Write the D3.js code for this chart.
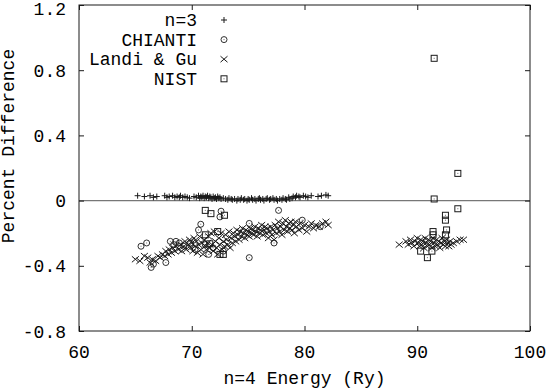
<!DOCTYPE html>
<html><head><meta charset="utf-8">
<script src="https://cdn.jsdelivr.net/npm/d3@7"></script>
<style>
html,body{margin:0;padding:0;background:#fff;}
svg text{font-family:"Courier New","Courier","Nimbus Mono PS","Nimbus Mono L","FreeMono","Liberation Mono",monospace;font-size:18px;fill:#000;}
</style></head>
<body><svg id="c" width="552" height="391"></svg>
<script>
const xTicks = [60, 70, 80, 90, 100];
const yTicks = [-0.8, -0.4, 0, 0.4, 0.8, 1.2];
const yTickLabels = ["-0.8", "-0.4", "0", "0.4", "0.8", "1.2"];
const seriesNames = ["n=3", "CHIANTI", "Landi & Gu", "NIST"];
const xTitle = "n=4 Energy (Ry)";
const yTitle = "Percent Difference";

const n3Energy = [65.2,65.8,66.3,66.6,66.9,67.6,67.8,68.0,68.3,68.5,68.7,68.9,69.0,69.2,69.4,69.6,69.8,70.2,70.4,70.6,70.7,70.8,70.9,71.0,71.1,71.2,71.3,71.4,71.5,71.6,71.7,71.8,71.9,72.0,72.1,72.2,72.3,72.4,72.5,72.6,72.8,73.0,73.2,73.3,73.5,73.6,73.8,74.0,74.1,74.3,74.4,74.6,74.7,74.9,75.0,75.1,75.3,75.4,75.6,75.7,75.9,76.0,76.1,76.3,76.4,76.6,76.7,76.9,77.0,77.2,77.3,77.5,77.6,77.8,78.0,78.1,78.3,78.4,78.6,78.7,78.9,79.0,79.2,79.3,79.5,79.6,79.9,80.1,80.3,80.6,81.2,81.5,81.9,82.1];
const n3Diff = [0.03,0.025,0.03,0.02,0.025,0.03,0.02,0.025,0.03,0.02,0.025,0.02,0.03,0.02,0.025,0.02,0.015,0.025,0.02,0.03,0.015,0.025,0.02,0.03,0.015,0.025,0.02,0.03,0.015,0.025,0.02,0.01,0.025,0.015,0.02,0.01,0.025,0.015,0.02,0.01,0.015,0.01,0.005,0.015,0.01,0.005,0.01,0.0,0.01,0.005,0.015,0.005,0.01,0.0,0.01,0.005,0.015,0.005,0.01,0.0,0.01,0.015,0.005,0.01,0.0,0.01,0.015,0.005,0.01,0.015,0.005,0.01,0.0,0.01,0.005,0.015,0.01,0.005,0.02,0.01,0.015,0.025,0.02,0.03,0.025,0.02,0.03,0.025,0.02,0.03,0.025,0.03,0.035,0.03];

const chiantiEnergy = [65.5,66.0,66.4,66.6,67.7,68.1,68.4,68.6,68.9,69.3,69.9,70.3,70.6,70.8,71.2,71.5,71.9,72.5,72.6,72.8,75.1,75.1,77.3,77.7,79.8,81.4];
const chiantiDiff = [-0.28,-0.26,-0.41,-0.39,-0.38,-0.25,-0.27,-0.25,-0.26,-0.28,-0.26,-0.30,-0.18,-0.145,-0.27,-0.33,-0.29,-0.10,-0.065,-0.31,-0.14,-0.35,-0.26,-0.06,-0.12,-0.16];

const landiEnergy = [65.0,65.4,65.8,66.1,66.3,66.5,66.8,67.0,67.2,67.4,67.6,67.7,67.9,68.0,68.2,68.3,68.5,68.6,68.8,69.0,69.1,69.3,69.4,69.5,69.7,69.8,69.9,70.0,70.1,70.2,70.3,70.4,70.5,70.6,70.7,70.8,70.9,71.0,71.1,71.2,71.3,71.4,71.5,71.6,71.7,71.8,71.9,72.0,72.1,72.2,72.3,72.4,72.5,72.6,72.7,72.8,72.9,73.0,73.1,73.2,73.3,73.4,73.5,73.6,73.7,73.8,73.9,74.0,74.1,74.2,74.3,74.4,74.5,74.6,74.7,74.8,74.9,75.0,75.1,75.2,75.3,75.4,75.5,75.6,75.7,75.8,75.9,76.0,76.1,76.2,76.3,76.4,76.5,76.6,76.7,76.8,76.9,77.0,77.1,77.2,77.3,77.4,77.5,77.6,77.7,77.8,77.9,78.0,78.1,78.2,78.3,78.4,78.5,78.6,78.7,78.8,78.9,79.0,79.1,79.2,79.3,79.5,79.6,79.8,80.0,80.2,80.4,80.6,80.8,81.0,81.3,81.6,81.9,82.1,
 88.4,89.0,89.2,89.4,89.5,89.7,89.8,90.0,90.1,90.2,90.3,90.4,90.5,90.6,90.7,90.8,90.9,91.0,91.1,91.2,91.3,91.4,91.5,91.6,91.7,91.8,91.9,92.0,92.1,92.2,92.3,92.4,92.5,92.6,92.7,92.8,92.9,93.0,93.2,93.5,93.8,94.1];
const landiDiff = [-0.36,-0.37,-0.34,-0.35,-0.38,-0.36,-0.37,-0.34,-0.35,-0.33,-0.34,-0.31,-0.33,-0.30,-0.32,-0.29,-0.31,-0.28,-0.30,-0.27,-0.31,-0.28,-0.25,-0.30,-0.27,-0.24,-0.29,-0.26,-0.31,-0.23,-0.28,-0.25,-0.32,-0.27,-0.22,-0.30,-0.26,-0.33,-0.24,-0.28,-0.30,-0.26,-0.22,-0.29,-0.20,-0.27,-0.31,-0.19,-0.25,-0.29,-0.33,-0.23,-0.27,-0.20,-0.30,-0.25,-0.28,-0.21,-0.24,-0.27,-0.19,-0.29,-0.23,-0.26,-0.20,-0.22,-0.25,-0.18,-0.21,-0.24,-0.19,-0.22,-0.17,-0.20,-0.23,-0.18,-0.21,-0.19,-0.22,-0.17,-0.20,-0.18,-0.21,-0.16,-0.19,-0.22,-0.17,-0.20,-0.18,-0.15,-0.21,-0.18,-0.16,-0.20,-0.17,-0.23,-0.19,-0.16,-0.21,-0.18,-0.24,-0.15,-0.20,-0.17,-0.13,-0.19,-0.16,-0.21,-0.14,-0.18,-0.12,-0.16,-0.19,-0.14,-0.17,-0.13,-0.18,-0.15,-0.20,-0.13,-0.16,-0.18,-0.14,-0.17,-0.15,-0.19,-0.16,-0.14,-0.17,-0.15,-0.16,-0.14,-0.13,-0.15,
 -0.27,-0.25,-0.27,-0.24,-0.26,-0.28,-0.25,-0.23,-0.26,-0.28,-0.24,-0.27,-0.25,-0.29,-0.23,-0.26,-0.28,-0.24,-0.27,-0.25,-0.29,-0.23,-0.26,-0.28,-0.24,-0.27,-0.25,-0.29,-0.26,-0.23,-0.27,-0.25,-0.28,-0.24,-0.26,-0.28,-0.25,-0.27,-0.26,-0.25,-0.24,-0.24];

const nistEnergy = [71.2,71.7,72.9,71.2,72.3,71.6,72.5,72.8,91.5,93.6,91.5,93.6,92.5,92.5,91.4,91.4,92.6,92.5,90.3,91.3,90.9];
const nistDiff = [-0.06,-0.08,-0.09,-0.21,-0.19,-0.265,-0.33,-0.33,0.873,0.167,0.01,-0.05,-0.09,-0.12,-0.19,-0.21,-0.18,-0.21,-0.31,-0.31,-0.35];

const svg = d3.select("#c");
const L = 79, R = 530, T = 5, B = 331;
const x = d3.scaleLinear().domain([60, 100]).range([L, R]);
const y = d3.scaleLinear().domain([-0.8, 1.2]).range([B, T]);
const ink = "#1a1a1a";

// zero axis
svg.append("line").attr("x1", L).attr("x2", R).attr("y1", y(0)).attr("y2", y(0))
  .attr("stroke", "#777").attr("stroke-width", 1.3);

// axes with inward ticks
const tk = 5;
const gB = svg.append("g").attr("transform", `translate(0,${B})`).call(d3.axisTop(x).tickValues(xTicks).tickSize(tk).tickFormat(""));
const gT = svg.append("g").attr("transform", `translate(0,${T})`).call(d3.axisBottom(x).tickValues(xTicks).tickSize(tk).tickFormat(""));
const gL = svg.append("g").attr("transform", `translate(${L},0)`).call(d3.axisRight(y).tickValues(yTicks).tickSize(tk).tickFormat(""));
const gR = svg.append("g").attr("transform", `translate(${R},0)`).call(d3.axisLeft(y).tickValues(yTicks).tickSize(tk).tickFormat(""));
[gB, gT, gL, gR].forEach(g => { g.select(".domain").remove(); g.selectAll("line").attr("stroke", ink); });

// tick labels
svg.append("g").selectAll("text").data(xTicks).join("text")
  .attr("x", d => x(d)).attr("y", 358).attr("text-anchor", "middle").text(d => d);
svg.append("g").selectAll("text").data(yTicks).join("text")
  .attr("x", 66).attr("y", d => Math.max(y(d) + 6.5, 15.2)).attr("text-anchor", "end").text((d, i) => yTickLabels[i]);

// frame
svg.append("rect").attr("x", L).attr("y", T).attr("width", R - L).attr("height", B - T)
  .attr("fill", "none").attr("stroke", ink).attr("stroke-width", 1);

// titles
svg.append("text").attr("x", (L + R) / 2).attr("y", 384).attr("text-anchor", "middle").text(xTitle);
svg.append("text").attr("transform", "translate(14,146) rotate(-90)").attr("text-anchor", "middle").text(yTitle);

// markers
function plus(g, cx, cy) {
  g.append("path").attr("d", `M${cx-3},${cy}H${cx+3}M${cx},${cy-3}V${cy+3}`).attr("stroke", ink).attr("fill", "none").attr("stroke-width", 1);
}
function cross(g, cx, cy) {
  g.append("path").attr("d", `M${cx-3.5},${cy-3}L${cx+3.5},${cy+3}M${cx-3.5},${cy+3}L${cx+3.5},${cy-3}`).attr("stroke", ink).attr("fill", "none").attr("stroke-width", 1);
}
function circ(g, cx, cy) {
  g.append("circle").attr("cx", cx).attr("cy", cy).attr("r", 3).attr("stroke", ink).attr("fill", "none").attr("stroke-width", 0.9);
  g.append("rect").attr("x", cx - 0.5).attr("y", cy - 0.5).attr("width", 1).attr("height", 1).attr("fill", "#666");
}
function sq(g, cx, cy) {
  g.append("rect").attr("x", cx - 3).attr("y", cy - 3).attr("width", 6).attr("height", 6).attr("stroke", ink).attr("fill", "none").attr("stroke-width", 1);
  g.append("rect").attr("x", cx - 0.5).attr("y", cy - 0.5).attr("width", 1).attr("height", 1).attr("fill", "#666");
}

const plot = svg.append("g");
const gN3 = plot.append("g"), gCH = plot.append("g"), gLG = plot.append("g"), gNI = plot.append("g");
n3Energy.forEach((e, i) => plus(gN3, x(e), y(n3Diff[i])));
chiantiEnergy.forEach((e, i) => circ(gCH, x(e), y(chiantiDiff[i])));
landiEnergy.forEach((e, i) => cross(gLG, x(e), y(landiDiff[i])));
nistEnergy.forEach((e, i) => sq(gNI, x(e), y(nistDiff[i])));

// legend
const marks = [plus, circ, cross, sq];
const leg = svg.append("g");
seriesNames.forEach((s, i) => {
  const cy = 20 + i * 19.6;
  leg.append("text").attr("x", 197).attr("y", cy + 6).attr("text-anchor", "end").text(s);
  marks[i](leg, 224, cy);
});
</script></body></html>
